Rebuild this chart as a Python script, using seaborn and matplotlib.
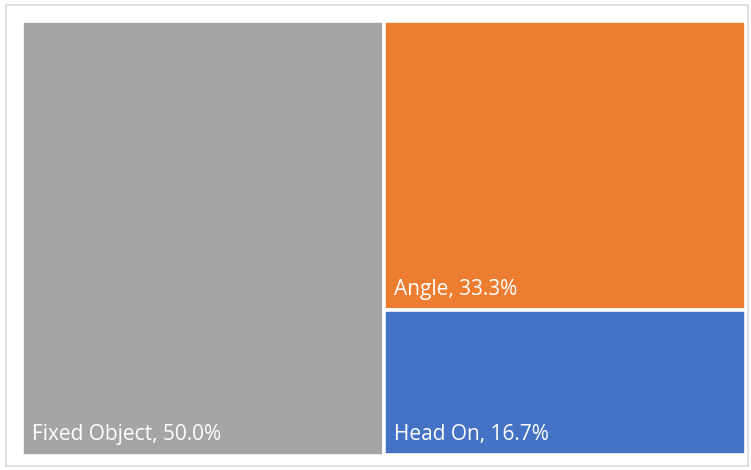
import matplotlib
matplotlib.use("Agg")
import matplotlib.pyplot as plt
import seaborn as sns
from matplotlib.patches import Rectangle

categories = ["Fixed Object", "Angle", "Head On"]
values = [50.0, 33.3, 16.7]
colors = ["#A5A5A5", "#ED7D31", "#4472C4"]

sns.set_theme(style="white")
plt.rcParams["font.family"] = ["Open Sans", "DejaVu Sans"]

W, H = 751, 470
fig = plt.figure(figsize=(W / 100, H / 100), dpi=100)
fig.patch.set_facecolor("white")
# outer frame
fig.add_artist(Rectangle((6 / W, (H - 466) / H), (748 - 6) / W, (466 - 5) / H,
                         transform=fig.transFigure, fill=False,
                         edgecolor="#D9D9D9", linewidth=1.2))

lpx, rpx, tpx, bpx = 21.5, 745.5, 20.5, 455.5
ax = fig.add_axes([lpx / W, (H - bpx) / H, (rpx - lpx) / W, (bpx - tpx) / H])

total = sum(values)
# simple slice-and-dice layout computed from values
first_w = values[0] / total
rest = sum(values[1:])
rects = [(0.0, 0.0, first_w, 1.0)]
ytop = 1.0
for v in values[1:]:
    h = v / rest
    rects.append((first_w, ytop - h, 1 - first_w, h))
    ytop -= h

for (x, y, w, h), c in zip(rects, colors):
    ax.bar(x, h, width=w, bottom=y, align="edge", color=c,
           edgecolor="white", linewidth=2.6)

for (x, y, w, h), cat, v in zip(rects, categories, values):
    ax.annotate(f"{cat}, {v:.1f}%", xy=(x, y), xytext=(11, 21),
                textcoords="offset pixels", color="white", fontsize=15,
                ha="left", va="center")

ax.set_xlim(0, 1)
ax.set_ylim(0, 1)
ax.axis("off")

fig.savefig("out.png", dpi=100)
